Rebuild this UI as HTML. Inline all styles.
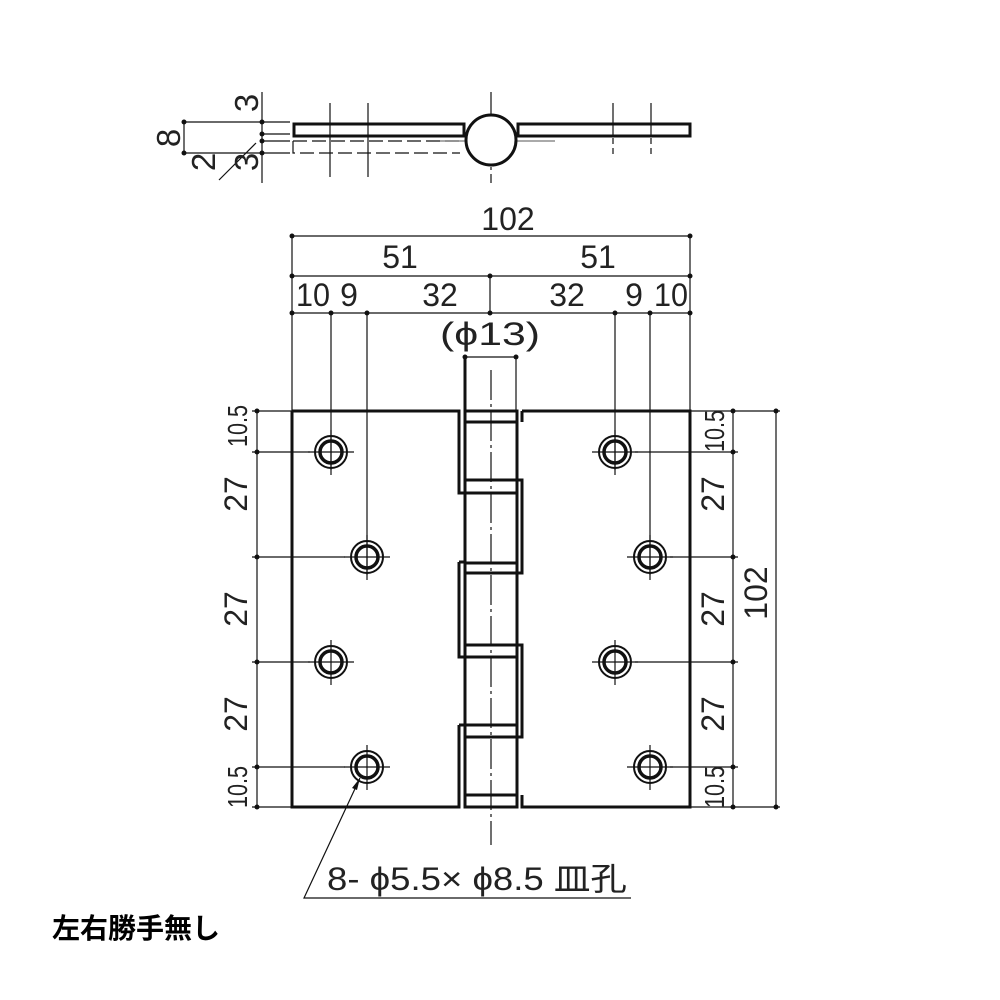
<!DOCTYPE html>
<html><head><meta charset="utf-8"><style>
html,body{margin:0;padding:0;background:#fff;width:1000px;height:1000px;overflow:hidden}
svg{display:block}
text{font-family:"Liberation Sans","Noto Sans CJK JP",sans-serif;fill:#222}
</style></head><body>
<svg width="1000" height="1000" viewBox="0 0 1000 1000" xmlns="http://www.w3.org/2000/svg">
<g stroke="#111" fill="none" stroke-width="1.2">
<line x1="184" y1="122" x2="184" y2="153"/>
<line x1="184" y1="122" x2="290" y2="122"/>
<line x1="184" y1="153" x2="290" y2="153"/>
<line x1="262" y1="134" x2="290" y2="134"/>
<line x1="262" y1="141" x2="290" y2="141"/>
<line x1="262" y1="92" x2="262" y2="183"/>
<line x1="219" y1="180" x2="256" y2="143"/>
<line x1="491" y1="92" x2="491" y2="183" stroke-dasharray="30,4,3,4"/>
<line x1="330" y1="103" x2="330" y2="177"/>
<line x1="368" y1="103" x2="368" y2="177"/>
<line x1="613" y1="103" x2="613" y2="136"/>
<line x1="651" y1="103" x2="651" y2="136"/>
<line x1="613" y1="138" x2="613" y2="155" stroke-dasharray="6,4"/>
<line x1="651" y1="138" x2="651" y2="155" stroke-dasharray="6,4"/>
<path d="M293 141 V153 H460 M293 141 H460" stroke-dasharray="14,5"/>
<line x1="440" y1="141" x2="555" y2="141" stroke="#777"/>
</g>
<g fill="#111">
<circle cx="184" cy="122" r="2.5"/><circle cx="184" cy="153" r="2.5"/>
<circle cx="262" cy="122" r="2.5"/><circle cx="262" cy="134" r="2.5"/><circle cx="262" cy="141" r="2.5"/><circle cx="262" cy="153" r="2.5"/>
</g>
<g stroke="#111" fill="none" stroke-width="3">
<rect x="294" y="124" width="170" height="12"/>
<rect x="518" y="124" width="172" height="12"/>
<circle cx="491" cy="140" r="25" fill="#fff"/>
</g>
<g font-size="33">
<text transform="translate(180,138) rotate(-90)" text-anchor="middle">8</text>
<text transform="translate(258,103) rotate(-90)" text-anchor="middle">3</text>
<text transform="translate(215,162) rotate(-90)" text-anchor="middle">2</text>
<text transform="translate(258,162) rotate(-90)" text-anchor="middle">3</text>
</g>

<g stroke="#111" stroke-width="1.2" fill="none">
<line x1="292" y1="236" x2="690" y2="236"/>
<line x1="292" y1="276" x2="690" y2="276"/>
<line x1="292" y1="313" x2="690" y2="313"/>
<line x1="490" y1="276" x2="490" y2="313"/>
<line x1="292" y1="236" x2="292" y2="411"/>
<line x1="690" y1="236" x2="690" y2="411"/>
<line x1="331" y1="313" x2="331" y2="470"/>
<line x1="367" y1="313" x2="367" y2="575"/>
<line x1="615" y1="313" x2="615" y2="470"/>
<line x1="650" y1="313" x2="650" y2="575"/>
<line x1="465" y1="357" x2="516" y2="357"/>
<line x1="516" y1="357" x2="516" y2="411"/>
<line x1="491" y1="370" x2="491" y2="845" stroke-dasharray="30,4,3,4"/>
<line x1="257" y1="411" x2="257" y2="807"/>
<line x1="252" y1="411" x2="292" y2="411"/>
<line x1="252" y1="807" x2="292" y2="807"/>
<line x1="252" y1="452" x2="310" y2="452"/>
<line x1="252" y1="557" x2="345" y2="557"/>
<line x1="252" y1="662" x2="310" y2="662"/>
<line x1="252" y1="767" x2="345" y2="767"/>
<line x1="733" y1="411" x2="733" y2="807"/>
<line x1="776" y1="411" x2="776" y2="807"/>
<line x1="690" y1="411" x2="780" y2="411"/>
<line x1="690" y1="807" x2="780" y2="807"/>
<line x1="635" y1="452" x2="738" y2="452"/>
<line x1="670" y1="557" x2="738" y2="557"/>
<line x1="635" y1="662" x2="738" y2="662"/>
<line x1="670" y1="767" x2="738" y2="767"/>
<path d="M331 430 V475 M308 452 H354 M331 640 V685 M308 662 H354 M367 535 V580 M344 557 H390 M367 745 V790 M344 767 H390 M615 430 V475 M592 452 H638 M615 640 V685 M592 662 H638 M650 535 V580 M627 557 H673 M650 745 V790 M627 767 H673"/>
<path d="M360 778 L304 898 H631"/>
</g>
<g fill="#111">
<circle cx="292" cy="236" r="2.5"/><circle cx="690" cy="236" r="2.5"/>
<circle cx="292" cy="276" r="2.5"/><circle cx="490" cy="276" r="2.5"/><circle cx="690" cy="276" r="2.5"/>
<circle cx="292" cy="313" r="2.5"/><circle cx="331" cy="313" r="2.5"/><circle cx="367" cy="313" r="2.5"/><circle cx="490" cy="313" r="2.5"/><circle cx="615" cy="313" r="2.5"/><circle cx="650" cy="313" r="2.5"/><circle cx="690" cy="313" r="2.5"/>
<circle cx="465" cy="357" r="2.5"/><circle cx="516" cy="357" r="2.5"/>
<circle cx="257" cy="411" r="2.5"/><circle cx="257" cy="452" r="2.5"/><circle cx="257" cy="557" r="2.5"/><circle cx="257" cy="662" r="2.5"/><circle cx="257" cy="767" r="2.5"/><circle cx="257" cy="807" r="2.5"/>
<circle cx="733" cy="411" r="2.5"/><circle cx="733" cy="452" r="2.5"/><circle cx="733" cy="557" r="2.5"/><circle cx="733" cy="662" r="2.5"/><circle cx="733" cy="767" r="2.5"/><circle cx="733" cy="807" r="2.5"/>
<circle cx="776" cy="411" r="2.5"/><circle cx="776" cy="807" r="2.5"/>
<path d="M360 778 L352 788 L357 790 Z"/>
</g>

<g stroke="#111" fill="none" stroke-width="3">
<path d="M292 411 H459 V493 H465 M459 562 H465 M459 562 V657 H465 M459 725 H465 M459 725 V807 H292 V411"/>
<path d="M522 411 H690 V807 H522 V795 M522 411 V422 M516 480 H522 V573 H516 M516 645 H522 V737 H516"/>
<path d="M465 411 H517 V807 H465 Z"/>
<path d="M465 422 H517 M465 480 H517 M465 493 H517 M465 563 H517 M465 573 H517 M465 645 H517 M465 657 H517 M465 725 H517 M465 737 H517 M465 795 H517"/>
<line x1="465" y1="357" x2="465" y2="411"/>
</g>
<g stroke="#111" fill="none">
<g stroke-width="3.5">
<circle cx="331" cy="452" r="11"/><circle cx="331" cy="662" r="11"/><circle cx="367" cy="557" r="11"/><circle cx="367" cy="767" r="11"/>
<circle cx="615" cy="452" r="11"/><circle cx="615" cy="662" r="11"/><circle cx="650" cy="557" r="11"/><circle cx="650" cy="767" r="11"/>
</g>
<g stroke-width="2">
<circle cx="331" cy="452" r="16"/><circle cx="331" cy="662" r="16"/><circle cx="367" cy="557" r="16"/><circle cx="367" cy="767" r="16"/>
<circle cx="615" cy="452" r="16"/><circle cx="615" cy="662" r="16"/><circle cx="650" cy="557" r="16"/><circle cx="650" cy="767" r="16"/>
</g>
</g>

<g font-size="32">
<text x="508" y="230" text-anchor="middle">102</text>
<text x="400" y="268" text-anchor="middle">51</text>
<text x="598" y="268" text-anchor="middle">51</text>
<text x="296" y="306" textLength="34" lengthAdjust="spacingAndGlyphs">10</text>
<text x="349" y="306" text-anchor="middle">9</text>
<text x="440" y="306" text-anchor="middle">32</text>
<text x="567" y="306" text-anchor="middle">32</text>
<text x="634" y="306" text-anchor="middle">9</text>
<text x="654" y="306" textLength="34" lengthAdjust="spacingAndGlyphs">10</text>
<text x="440" y="345" textLength="100" lengthAdjust="spacingAndGlyphs">(&#x3D5;13)</text>
<text transform="translate(247,494) rotate(-90)" text-anchor="middle">27</text>
<text transform="translate(247,609) rotate(-90)" text-anchor="middle">27</text>
<text transform="translate(247,714) rotate(-90)" text-anchor="middle">27</text>
<text transform="translate(724,494) rotate(-90)" text-anchor="middle">27</text>
<text transform="translate(724,609) rotate(-90)" text-anchor="middle">27</text>
<text transform="translate(724,714) rotate(-90)" text-anchor="middle">27</text>
<text transform="translate(767,593) rotate(-90)" text-anchor="middle">102</text>
<text x="327" y="890" textLength="300" lengthAdjust="spacingAndGlyphs">8- &#x3D5;5.5× &#x3D5;8.5 皿孔</text>
</g>
<g font-size="28">
<text transform="translate(247,426) rotate(-90)" text-anchor="middle" textLength="42" lengthAdjust="spacingAndGlyphs">10.5</text>
<text transform="translate(247,787) rotate(-90)" text-anchor="middle" textLength="42" lengthAdjust="spacingAndGlyphs">10.5</text>
<text transform="translate(724,431) rotate(-90)" text-anchor="middle" textLength="42" lengthAdjust="spacingAndGlyphs">10.5</text>
<text transform="translate(724,787) rotate(-90)" text-anchor="middle" textLength="42" lengthAdjust="spacingAndGlyphs">10.5</text>
</g>
<text x="52" y="938" font-size="28" font-weight="bold" style="fill:#000">左右勝手無し</text>
</svg>
</body></html>
